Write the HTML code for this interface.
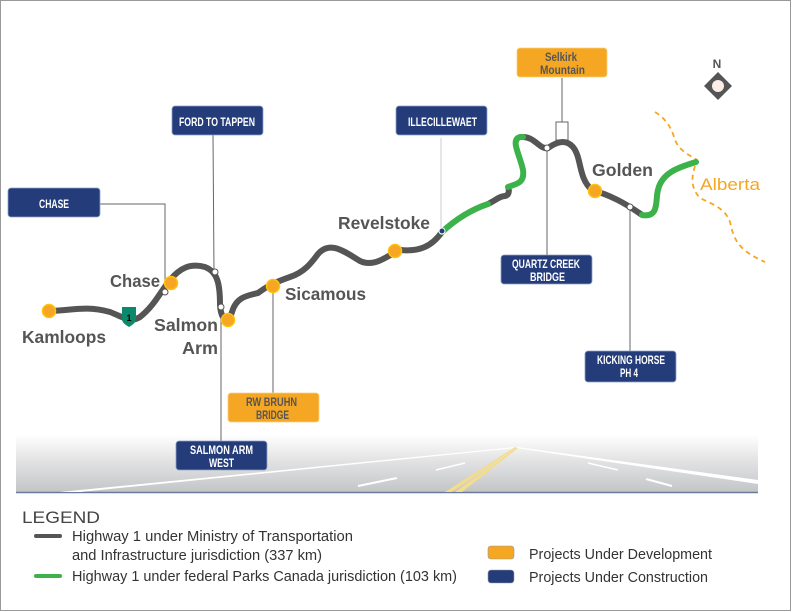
<!DOCTYPE html>
<html><head><meta charset="utf-8"><style>
html,body{margin:0;padding:0;background:#fff}
svg{display:block}
.bx{font-family:"Liberation Sans",sans-serif;font-weight:bold;font-size:12px;fill:#fff}
.by{font-family:"Liberation Sans",sans-serif;font-weight:bold;font-size:12px;fill:#555}
.city{font-family:"Liberation Sans",sans-serif;font-weight:bold;font-size:17.5px;fill:#555}
.lg{font-family:"Liberation Sans",sans-serif;font-size:15px;fill:#333}
</style></head><body>
<svg width="792" height="612" viewBox="0 0 792 612" xmlns="http://www.w3.org/2000/svg">
<defs>
<linearGradient id="rd" x1="0" y1="0" x2="0" y2="1">
<stop offset="0" stop-color="#fff"/><stop offset="0.4" stop-color="#e6e6e7"/><stop offset="1" stop-color="#c4c5c7"/>
</linearGradient>
</defs>
<rect x="0.5" y="0.5" width="790" height="610" fill="#fff" stroke="#999"/>
<rect x="16" y="435" width="742" height="57" fill="url(#rd)"/>
<line x1="16" y1="492.5" x2="758" y2="492.5" stroke="#6a7a99" stroke-width="1.5"/>
<polygon points="60,492 515,447 516,448 80,492" fill="#fff"/>
<polygon points="517,447 758,480 758,484 516,448" fill="#fff"/>
<polygon points="445,492 515,447 517,447 452,492" fill="#f3dc8a"/>
<polygon points="455,492 516,448 518,448 462,492" fill="#f3dc8a"/>
<line x1="358" y1="486" x2="397" y2="478" stroke="#fff" stroke-width="2"/>
<line x1="436" y1="470" x2="465" y2="463" stroke="#fff" stroke-width="1.5"/>
<line x1="588" y1="463" x2="618" y2="470" stroke="#fff" stroke-width="1.5"/>
<line x1="646" y1="479" x2="672" y2="486" stroke="#fff" stroke-width="2"/>
<g stroke="#666" stroke-width="1" fill="none">
<polyline points="100,204 165,204 165,292"/>
<line x1="213" y1="135" x2="214" y2="272"/>
<line x1="221" y1="306" x2="221" y2="441"/>
<line x1="273" y1="286" x2="273" y2="394"/>
<line x1="441" y1="138" x2="441" y2="232" stroke="#ccc"/>
<line x1="547" y1="148" x2="547" y2="255"/>
<line x1="562" y1="78" x2="562" y2="122"/>
<line x1="630" y1="206" x2="630" y2="352"/>
</g>
<rect x="556" y="122" width="12" height="18" fill="#fff" stroke="#666"/>
<path d="M655,112 C668,120 672,130 675,140 C680,152 690,155 697,160 C693,172 688,185 700,198 C712,204 725,208 730,222 C734,240 738,250 765,262" fill="none" stroke="#f5a623" stroke-width="1.8" stroke-dasharray="5,4"/>
<path d="M49,311 C70,311 85,305 110,312 C125,318 130,323 140,317 C155,305 160,292 170,280 C180,268 190,263 205,267 C218,272 220,285 220,305 C221,320 228,325 232,312 C236,298 245,296 258,293 C265,288 270,284 290,277 C305,272 312,262 318,254 C330,240 345,252 360,261 C375,268 388,255 400,250 C420,252 432,246 442,232" fill="none" stroke="#555" stroke-width="6" stroke-linecap="round"/>
<path d="M488,204 C496,200 500,196 505,196 C510,195 509,189 508,187" fill="none" stroke="#555" stroke-width="6"/>
<path d="M523,137 C535,137 540,150 548,148 C555,143 565,138 573,147 C582,158 578,178 592,190 C610,195 625,203 642,215" fill="none" stroke="#555" stroke-width="6"/>
<path d="M442,232 C455,220 470,210 488,204" fill="none" stroke="#3cb34a" stroke-width="6" stroke-linecap="round"/>
<path d="M508,187 C515,184 525,184 523,170 C520,155 510,140 520,137 L523,137" fill="none" stroke="#3cb34a" stroke-width="6" stroke-linecap="round"/>
<path d="M642,215 C660,218 655,200 658,190 C662,172 680,167 696,162" fill="none" stroke="#3cb34a" stroke-width="6" stroke-linecap="round"/>
<g fill="#f5a623" stroke="#ffc20e" stroke-width="1.5">
<circle cx="49" cy="311" r="6.5"/><circle cx="171" cy="283" r="6.5"/><circle cx="228" cy="320" r="6.5"/>
<circle cx="273" cy="286" r="6.5"/><circle cx="395" cy="251" r="6.5"/><circle cx="595" cy="191" r="6.5"/>
</g>
<g fill="#fff" stroke="#555" stroke-width="1">
<circle cx="165" cy="292" r="3"/><circle cx="215" cy="272" r="3"/><circle cx="221" cy="307" r="3"/>
<circle cx="547" cy="148" r="3"/><circle cx="630" cy="207" r="3"/>
</g>
<circle cx="442" cy="231" r="3" fill="#243d7a" stroke="#fff" stroke-width="1"/>
<path d="M122,307 h14 v12 c0,4 -4,6 -7,8 c-3,-2 -7,-4 -7,-8 z" fill="#0a8a6a"/>
<text x="129" y="321" font-family="Liberation Sans,sans-serif" font-size="9" font-weight="bold" fill="#000" text-anchor="middle">1</text>
<g lengthAdjust="spacingAndGlyphs">
<text class="city" x="22" y="343" textLength="84" lengthAdjust="spacingAndGlyphs">Kamloops</text>
<text class="city" x="110" y="287" textLength="50" lengthAdjust="spacingAndGlyphs">Chase</text>
<text class="city" x="154" y="331" textLength="64" lengthAdjust="spacingAndGlyphs">Salmon</text>
<text class="city" x="182" y="354" textLength="36" lengthAdjust="spacingAndGlyphs">Arm</text>
<text class="city" x="285" y="300" textLength="81" lengthAdjust="spacingAndGlyphs">Sicamous</text>
<text class="city" x="338" y="229" textLength="92" lengthAdjust="spacingAndGlyphs">Revelstoke</text>
<text class="city" x="592" y="176" textLength="61" lengthAdjust="spacingAndGlyphs">Golden</text>
</g>
<text x="700" y="190" font-family="Liberation Sans,sans-serif" font-size="17" fill="#f5a623" textLength="60" lengthAdjust="spacingAndGlyphs">Alberta</text>
<text x="717" y="68" font-family="Liberation Sans,sans-serif" font-weight="bold" font-size="12" fill="#555" text-anchor="middle">N</text>
<polygon points="718,72 732,86 718,100 704,86" fill="#555"/>
<circle cx="718" cy="86" r="6" fill="#fbeee6"/>
<g fill="#243d7a" stroke="#8fa0c8" stroke-width="0.8">
<rect x="8" y="188" width="92" height="29" rx="3"/>
<rect x="172" y="106" width="91" height="29" rx="3"/>
<rect x="396" y="106" width="91" height="29" rx="3"/>
<rect x="501" y="255" width="91" height="29" rx="3"/>
<rect x="585" y="351" width="91" height="31" rx="3"/>
<rect x="176" y="441" width="91" height="29" rx="3"/>
</g>
<g fill="#f5a623" stroke="#fbd07a" stroke-width="0.8">
<rect x="517" y="48" width="90" height="29" rx="3"/>
<rect x="228" y="393" width="91" height="29" rx="3"/>
</g>
<text class="bx" x="39" y="208" textLength="30" lengthAdjust="spacingAndGlyphs">CHASE</text>
<text class="bx" x="179" y="126" textLength="76" lengthAdjust="spacingAndGlyphs">FORD TO TAPPEN</text>
<text class="bx" x="408" y="126" textLength="69" lengthAdjust="spacingAndGlyphs">ILLECILLEWAET</text>
<text class="bx" x="512" y="268" textLength="68" lengthAdjust="spacingAndGlyphs">QUARTZ CREEK</text>
<text class="bx" x="530" y="281" textLength="35" lengthAdjust="spacingAndGlyphs">BRIDGE</text>
<text class="bx" x="597" y="364" textLength="68" lengthAdjust="spacingAndGlyphs">KICKING HORSE</text>
<text class="bx" x="620" y="377" textLength="18" lengthAdjust="spacingAndGlyphs">PH 4</text>
<text class="bx" x="190" y="454" textLength="63" lengthAdjust="spacingAndGlyphs">SALMON ARM</text>
<text class="bx" x="209" y="467" textLength="25" lengthAdjust="spacingAndGlyphs">WEST</text>
<text class="by" x="545" y="61" textLength="32" lengthAdjust="spacingAndGlyphs">Selkirk</text>
<text class="by" x="540" y="74" textLength="45" lengthAdjust="spacingAndGlyphs">Mountain</text>
<text class="by" x="246" y="406" textLength="51" lengthAdjust="spacingAndGlyphs">RW BRUHN</text>
<text class="by" x="256" y="419" textLength="33" lengthAdjust="spacingAndGlyphs">BRIDGE</text>
<text x="22" y="523" font-family="Liberation Sans,sans-serif" font-size="17" fill="#444" textLength="78" lengthAdjust="spacingAndGlyphs">LEGEND</text>
<line x1="36" y1="536" x2="60" y2="536" stroke="#555" stroke-width="4" stroke-linecap="round"/>
<text class="lg" x="72" y="541" textLength="281" lengthAdjust="spacingAndGlyphs">Highway 1 under Ministry of Transportation</text>
<text class="lg" x="72" y="560" textLength="250" lengthAdjust="spacingAndGlyphs">and Infrastructure jurisdiction (337 km)</text>
<line x1="36" y1="576" x2="60" y2="576" stroke="#3cb34a" stroke-width="4" stroke-linecap="round"/>
<text class="lg" x="72" y="581" textLength="385" lengthAdjust="spacingAndGlyphs">Highway 1 under federal Parks Canada jurisdiction (103 km)</text>
<rect x="488" y="546" width="26" height="13" rx="3" fill="#f5a623" stroke="#999" stroke-width="0.6"/>
<text class="lg" x="529" y="559" textLength="183" lengthAdjust="spacingAndGlyphs">Projects Under Development</text>
<rect x="488" y="570" width="26" height="13" rx="3" fill="#243d7a" stroke="#999" stroke-width="0.6"/>
<text class="lg" x="529" y="582" textLength="179" lengthAdjust="spacingAndGlyphs">Projects Under Construction</text>
</svg>
</body></html>
